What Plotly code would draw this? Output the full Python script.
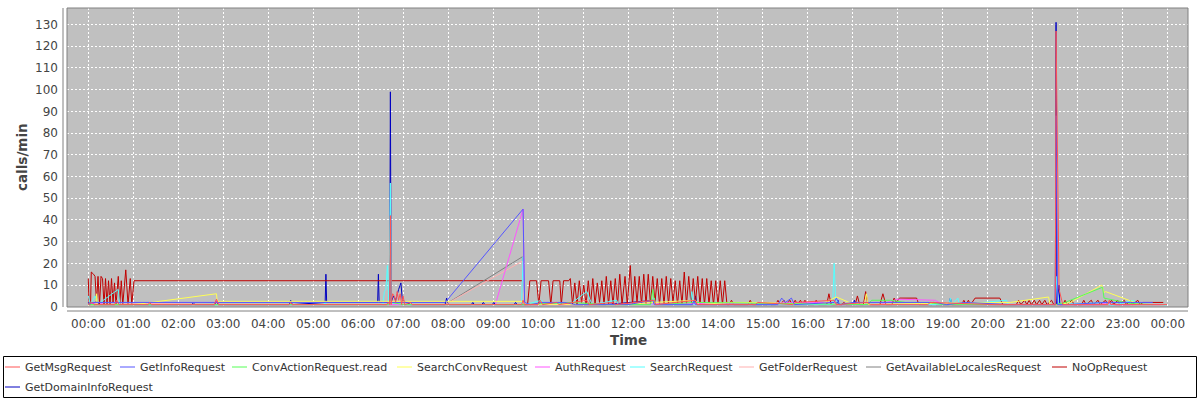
import plotly.graph_objects as go
import pandas as pd

DAY = "2024-01-01 "

# ---------------- data (time "HH:MM", calls/min) ----------------
getmsg_t = ["00:00","00:05","00:08","00:35","00:38","00:41","01:20","01:22","01:24","02:48","02:51","02:54",
            "04:28","04:30","04:32","05:15","06:38","06:40","06:42","06:43","06:44","06:46","06:48","06:50",
            "06:52","06:54","06:56","06:58","07:00","07:02","07:10","07:12","07:20","09:38","09:40","09:42",
            "10:00","10:03","10:06","10:25","10:28","11:05","11:08","11:40","11:43","12:35","12:37","13:30",
            "13:32","14:20","14:50","14:53","15:40","15:43","16:35","16:38","17:20","17:23","18:40","18:43",
            "20:10","21:30","21:31","21:35","21:38","21:40","22:40","22:42","22:44","23:59"]
getmsg_v = [1,2,1,1,3,1,1,2,1,1,3.5,1,
            1,2,1,1,1,2,1,42,1,6,5,2,
            7,3,6,1,5,1,2,1,1,1,3,1,
            1,3,1,2,1,3,1,2,1,3,1,3,
            1,1,1,2,1,2,3,1,2,1,1,2,
            1,1,127,8,3,1,1,3,1,1]

getinfo_t = ["00:00","00:02","00:04","07:56","09:40","09:42","09:50","10:05","10:35","10:50","12:00","12:33",
             "12:35","13:26","13:28","13:30","15:20","15:25","15:30","15:38","15:42","16:35","16:38","16:42",
             "17:00","18:50","19:05","19:30","20:30","21:30","21:31","21:33","21:45","22:35","23:10","23:40"]
getinfo_v = [2,1,2,2,45,2,1,2,2,1,1,3,
             1,1,3,1,1,4,2,4,1,2,4,1,
             2,2,1,2,1,1,88,1,1,2,2,2]

convaction_t = ["00:00","06:40","06:45","07:00","09:40","10:45","11:30","12:30","12:33","12:36","13:30","16:35",
                "17:20","17:25","17:50","18:10","18:40","19:00","21:30","21:43","22:33","22:35","23:10","23:40"]
convaction_v = [1,1,2,1,1,2,1,1,8,1,2,1,
                1,3,3,2,2,1,1,2,9,4,1.5,1]

searchconv_t = ["00:00","00:10","00:11","00:12","01:02","02:51","02:52","09:40","09:43","10:40","11:55","12:35",
                "13:30","13:35","14:15","15:05","15:30","16:20","16:38","16:55","17:15","17:18","17:20","18:30",
                "20:30","21:21","21:23","21:35","21:50","22:32","22:35","22:37","23:16","23:20"]
searchconv_v = [1,1,6,1,1,6,2.5,2.5,1,1,1,2,
                3,1,2,2,1.5,1.5,4.5,2,1,6,1,1.5,
                2,4.5,1,1,2,10,6.5,7,2,1]

auth_t = ["00:00","00:15","00:20","01:15","01:20","01:25","02:48","02:51","02:54","09:03","09:40","09:42",
          "11:00","16:35","16:40","17:36","18:00","18:50","19:00","21:30","22:30","22:40","22:45","23:50"]
auth_v = [1,2,1,1,2,1,1,3,1,1,45,1,
          1,2,1,1,3.5,3,1,1,1,2,1,1]

search_t = ["00:00","00:03","00:09","00:12","00:16","00:40","00:42","05:14","05:16","05:18","06:33","06:35",
            "06:37","06:39","06:41","06:43","06:44","06:50","09:38","09:40","09:42","10:05","10:08","10:40",
            "10:42","11:05","11:12","11:45","11:47","12:33","12:35","12:37","13:23","13:25","13:27","16:33",
            "16:35","16:37","16:45","19:08","19:10","19:12","19:20","19:22","20:25","20:27","21:30","21:32",
            "21:34","22:38","22:45","23:15","23:17","23:55","23:58"]
search_v = [5,1,5,2,2,8,1,1,2,1,1,7,
            8,19,1,57,2,1,1,23,1,3,1,2,
            1,7,1,3,1,1,4,1,1,7,1,1,
            20,3,1,1,4,1,4,1,3,1,1,14,
            1,2,0.5,3,1,1,0.5]

getfolder_t = ["00:00","02:50","02:52","07:56","09:39","09:41","23:50"]
getfolder_v = [1,2,1,1,21,1,1]

locales_t = ["00:00","07:56","09:39","09:41","23:50"]
locales_v = [1,1,23,1,1]

noop_t = ["00:00","00:01","00:03","00:04","00:07","00:09","00:11","00:13","00:15","00:17","00:19","00:21",
          "00:23","00:25","00:27","00:29","00:31","00:33","00:35","00:37","00:40","00:42","00:44","00:46",
          "00:50","00:53","00:56","00:58","01:01","09:40","09:42","09:46","09:49","09:58","10:01","10:04",
          "10:14","10:17","10:20","10:29","10:31","10:34","10:41","10:43","10:46","10:49","10:52","10:55",
          "10:58","11:01","11:04","11:07","11:10","11:13","11:16","11:19","11:22","11:25","11:28","11:31",
          "11:34","11:37","11:40","11:43","11:46","11:49","11:52","11:56","11:59","12:03","12:06","12:09",
          "12:12","12:15","12:18","12:21","12:24","12:27","12:30","12:33","12:36","12:39","12:42","12:45",
          "12:48","12:51","12:54","12:57","13:00","13:03","13:06","13:09","13:12","13:15","13:18","13:21",
          "13:24","13:27","13:30","13:33","13:36","13:39","13:42","13:45","13:48","13:51","13:54","13:57",
          "14:00","14:03","14:06","14:09","14:12","14:15","14:18","14:21","14:40","14:43","14:46","15:05",
          "15:08","15:11","15:17","15:20","15:23","15:28","15:31","15:36","15:39","15:43","15:46","15:50",
          "15:53","15:56","15:59","16:08","16:11","16:14","16:25","16:28","16:31","16:45","16:48","16:51",
          "17:03","17:06","17:09","17:14","17:17","17:20","17:36","17:40","17:44","17:52","17:55","17:58",
          "18:02","18:25","18:28","18:45","18:48","18:51","19:25","19:28","19:31","19:34","19:37","19:43",
          "20:16","20:20","20:38","20:41","20:44","20:49","20:52","20:55","20:58","21:02","21:05","21:09",
          "21:12","21:16","21:19","21:25","21:28","21:40","21:43","21:46","21:52","21:55","22:05","22:08",
          "22:11","22:18","22:21","22:27","22:30","22:37","22:40","22:45","22:48","22:53","22:56","23:02",
          "23:05","23:10","23:13","23:20","23:23","23:27","23:54"]
noop_v = [13,1,1,16,15,14,2,14,1,14,13,1,
          13,1,12,1,13,2,11,1,14,1,12,1,
          17,1,13,1,12,12,1,1,12,12,1,12,
          12,1,12,12,1,12,12,13,1,11,1,12,
          2,10,1,12,1,13,1,11,2,12,1,14,
          1,12,1,13,1,15,1,14,1,19,1,14,
          2,14,1,15,1,15,1,14,2,13,1,13,
          1,14,1,13,2,12,1,12,1,16,1,14,
          1,13,2,14,1,13,1,13,1,12,1,12,
          1,12,1,12,1,1,3,1,1,3,1,1,
          2,1,1,3,1,3,1,3,1,3,1,3,
          1,3,1,1,3,1,1,6,1,1,2,1,
          1,5,1,1,7,1,1,6,1,1,4,2,
          4,4,1,1,2,1,1,3,1,3,1,4,
          4,1,1,3,1,3,1,3,1,3,1,3,
          1,3,1,3,1,1,3,1,3,1,1,3,
          1,3,1,3,1,3,1,3,1,3,1,3,
          1,3,1,3,1,2,2]

domaininfo_t = ["00:00","00:08","00:11","00:14","02:18","02:20","02:22","02:49","02:51","02:53","04:28","04:30",
                "04:32","05:16","05:17","05:18","06:26","06:27","06:28","06:42","06:43","06:44","06:47","06:50",
                "06:54","06:57","06:59","07:10","07:56","07:58","08:00","08:31","08:33","08:35","08:45","08:47",
                "08:49","08:59","09:01","09:03","09:28","09:30","09:32","09:41","11:30","12:35","12:37","13:28",
                "13:30","13:32","16:38","16:40","16:42","17:00","17:02","17:04","19:08","19:10","19:12","21:30",
                "21:31","21:32","21:35","21:36","22:40","23:10"]
domaininfo_v = [2,1,3,1,1,2,1,1,3,1,1,3,
                1,2,15,2,2,15,2,2,99,2,5,3,
                8,11,3,1,1,4,1,1,2,1,1,2,
                1,1,2,1,1,2,1,1,1,3,1,1,
                5,1,1,3,1,1,3,1,1,4,1,1,
                131,1,10,1,1,1]

series_names = ["GetMsgRequest", "GetInfoRequest", "ConvActionRequest.read", "SearchConvRequest",
                "AuthRequest", "SearchRequest", "GetFolderRequest", "GetAvailableLocalesRequest",
                "NoOpRequest", "GetDomainInfoRequest"]
series_t = [getmsg_t, getinfo_t, convaction_t, searchconv_t, auth_t, search_t,
            getfolder_t, locales_t, noop_t, domaininfo_t]
series_v = [getmsg_v, getinfo_v, convaction_v, searchconv_v, auth_v, search_v,
            getfolder_v, locales_v, noop_v, domaininfo_v]
series_colors = ["#FF5555", "#5555FF", "#55FF55", "#FFFF55", "#FF55FF", "#55FFFF",
                 "#FFAFAF", "#808080", "#C00000", "#0000C0"]

fig = go.Figure()
# draw last series first so the first series ends on top
for i in reversed(range(len(series_names))):
    fig.add_trace(go.Scatter(
        x=pd.to_datetime([DAY + s for s in series_t[i]]), y=series_v[i], mode="lines",
        name=series_names[i], line=dict(color=series_colors[i], width=1), showlegend=False))

FONT = "DejaVu Sans"
W, H = 1200, 400
ML, MR, MT, MB = 67, 12, 8, 93
PW, PH = W - ML - MR, H - MT - MB

def px_x(p):
    return (p - ML) / PW

def px_y(p):
    return (H - MB - p) / PH

# legend layout (pixel positions of each entry: symbol start, row centre)
leg_sym_x = [5, 120, 232, 397, 535, 630, 739, 866, 1052, 5]
leg_row_y = [367, 367, 367, 367, 367, 367, 367, 367, 367, 387]
SYM_LEN, SYM_GAP = 15, 3

shapes = [
    dict(type="rect", xref="paper", yref="paper", x0=0, x1=1, y0=0, y1=1,
         line=dict(color="#808080", width=1), fillcolor="rgba(0,0,0,0)", layer="above"),
    dict(type="line", xref="paper", yref="paper", x0=0, x1=1, y0=px_y(311), y1=px_y(311),
         line=dict(color="#808080", width=1)),
    dict(type="line", xref="paper", yref="paper", x0=px_x(63), x1=px_x(63), y0=0, y1=1,
         line=dict(color="#808080", width=1)),
    dict(type="rect", xref="paper", yref="paper", x0=px_x(3.5), x1=px_x(1196.5),
         y0=px_y(356.5), y1=px_y(397.5), line=dict(color="black", width=1),
         fillcolor="rgba(0,0,0,0)"),
]
annotations = [
    dict(text="<b>calls/min</b>", textangle=-90, xref="paper", yref="paper",
         x=px_x(22), y=px_y(157), showarrow=False, xanchor="center", yanchor="middle",
         font=dict(family=FONT, size=13.5, color="#444444")),
    dict(text="<b>Time</b>", xref="paper", yref="paper",
         x=px_x(628), y=px_y(340), showarrow=False, xanchor="center", yanchor="middle",
         font=dict(family=FONT, size=13.5, color="#444444")),
]
for i, name in enumerate(series_names):
    x0, yc = leg_sym_x[i], leg_row_y[i]
    shapes.append(dict(type="line", xref="paper", yref="paper",
                       x0=px_x(x0), x1=px_x(x0 + SYM_LEN), y0=px_y(yc), y1=px_y(yc),
                       line=dict(color=series_colors[i], width=1)))
    annotations.append(dict(text=name, xref="paper", yref="paper",
                            x=px_x(x0 + SYM_LEN + SYM_GAP), y=px_y(yc), showarrow=False,
                            xanchor="left", yanchor="middle",
                            font=dict(family=FONT, size=11, color="#333333")))

fig.update_layout(
    width=W, height=H,
    margin=dict(l=ML, r=MR, t=MT, b=MB, autoexpand=False),
    paper_bgcolor="white", plot_bgcolor="#C0C0C0",
    font=dict(family=FONT, size=12, color="#444444"),
    showlegend=False,
    xaxis=dict(type="date", range=["2023-12-31 23:31:36", "2024-01-02 00:27:00"],
               tickformat="%H:%M", dtick=3600000, tick0="2024-01-01 00:00",
               showgrid=True, gridcolor="white", gridwidth=1, griddash="2px,2px",
               zeroline=False, showline=False, ticks="", ticklabelstandoff=8,
               automargin=False,
               tickfont=dict(family=FONT, size=12, color="#444444")),
    yaxis=dict(range=[-0.1, 137.6], dtick=10, tick0=0,
               showgrid=True, gridcolor="white", gridwidth=1, griddash="2px,2px",
               zeroline=False, showline=False, ticks="", ticklabelstandoff=8,
               automargin=False,
               tickfont=dict(family=FONT, size=12, color="#444444")),
    shapes=shapes,
    annotations=annotations,
)

fig.write_html("out.html", config={"displayModeBar": False},
               post_script="document.body.style.margin='0';document.body.style.overflow='hidden';")
